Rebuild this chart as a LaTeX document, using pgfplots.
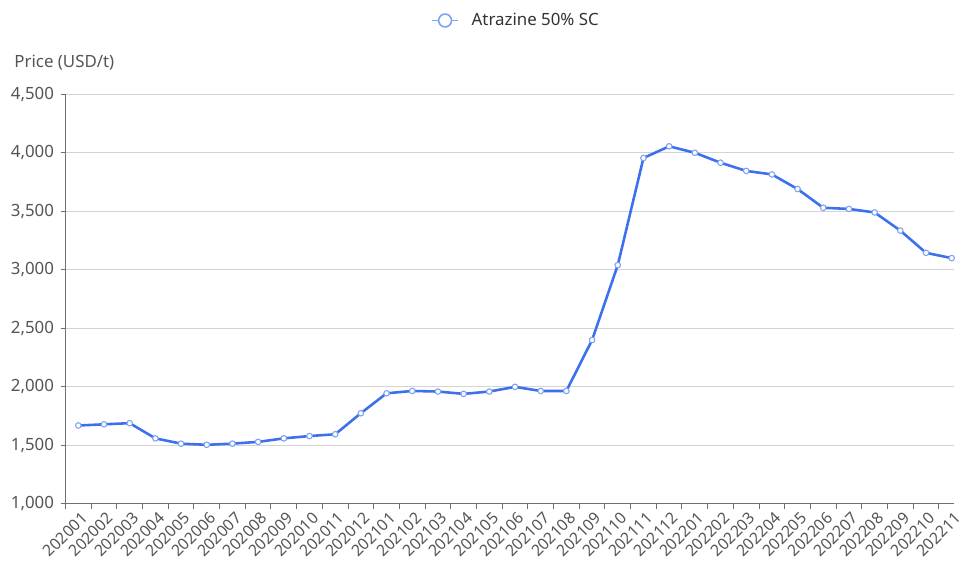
\documentclass[border=0pt]{standalone}
\usepackage{fontspec}
\setmainfont{Noto Sans}
\usepackage{pgfplots}
\pgfplotsset{compat=1.18}
\definecolor{lineblue}{HTML}{3C70EE}
\definecolor{markblue}{HTML}{7EA2F5}
\definecolor{axisgray}{HTML}{6E7079}
\definecolor{gridgray}{HTML}{D4D4D4}
\definecolor{labelgray}{HTML}{555555}
\definecolor{legendtext}{HTML}{333333}

\begin{document}
\begin{tikzpicture}
\begin{axis}[
    scale only axis,
    width=896pt, height=413pt,
    xmin=-0.5, xmax=34.1,
    ymin=1000, ymax=4500,
    ytick={1000,1500,...,4500},
    xtick={0,...,34},
    xticklabels={202001,202002,202003,202004,202005,202006,202007,202008,202009,202010,202011,202012,
                 202101,202102,202103,202104,202105,202106,202107,202108,202109,202110,202111,202112,
                 202201,202202,202203,202204,202205,202206,202207,202208,202209,202210,202211},
    minor xtick={-0.5,0.5,...,34.5},
    major x tick style={draw=none},
    tick align=outside,
    major tick length=5pt, minor tick length=5pt,
    axis x line*=bottom, axis y line*=left,
    axis line style={axisgray, line width=1pt},
    tick style={axisgray, line width=1pt},
    ymajorgrids,
    grid style={gridgray, line width=0.9pt},
    /pgf/number format/assume math mode=true,
    /pgf/number format/fixed,
    /pgf/number format/1000 sep={,},
    yticklabel style={font=\fontsize{17}{19}\selectfont, text=labelgray, xshift=-3pt},
    xticklabel style={font=\fontsize{16}{18}\selectfont, text=labelgray, rotate=45, anchor=east, inner sep=0pt, yshift=-9pt},
    legend style={at={(rel axis cs:0.507,1.18)}, anchor=center, draw=none, fill=none,
                  font=\fontsize{17}{19}\selectfont, text=legendtext,
                  /tikz/every odd column/.append style={column sep=11pt}},
    legend image code/.code={
        \draw[markblue, line width=1.6pt] (0pt,0pt) -- (26pt,0pt);
        \draw[markblue, line width=1.6pt, fill=white] (13pt,0pt) circle (6.5pt);
    },
]
\addplot[lineblue, line width=2.6pt, mark=*, mark size=2.8pt,
         mark options={fill=white, draw=markblue, line width=1.1pt}] coordinates {
    (0,1670) (1,1680) (2,1690) (3,1560) (4,1515) (5,1505) (6,1515) (7,1530)
    (8,1560) (9,1580) (10,1595) (11,1775) (12,1945) (13,1965) (14,1960) (15,1940)
    (16,1960) (17,2000) (18,1965) (19,1965) (20,2400) (21,3040) (22,3955) (23,4055)
    (24,4000) (25,3915) (26,3845) (27,3815) (28,3690) (29,3530) (30,3520) (31,3490)
    (32,3335) (33,3145) (34,3100)
};
\addlegendentry{Atrazine 50\% SC}
\end{axis}
\node[anchor=west, text=labelgray, font=\fontsize{17}{19}\selectfont]
    at ([shift={(-55pt,32pt)}]current axis.north west) {Price (USD/t)};
\path[use as bounding box] ([shift={(-66pt,-57pt)}]current axis.south west)
    rectangle ([shift={(0pt,95pt)}]current axis.north east);
\end{tikzpicture}
\end{document}
